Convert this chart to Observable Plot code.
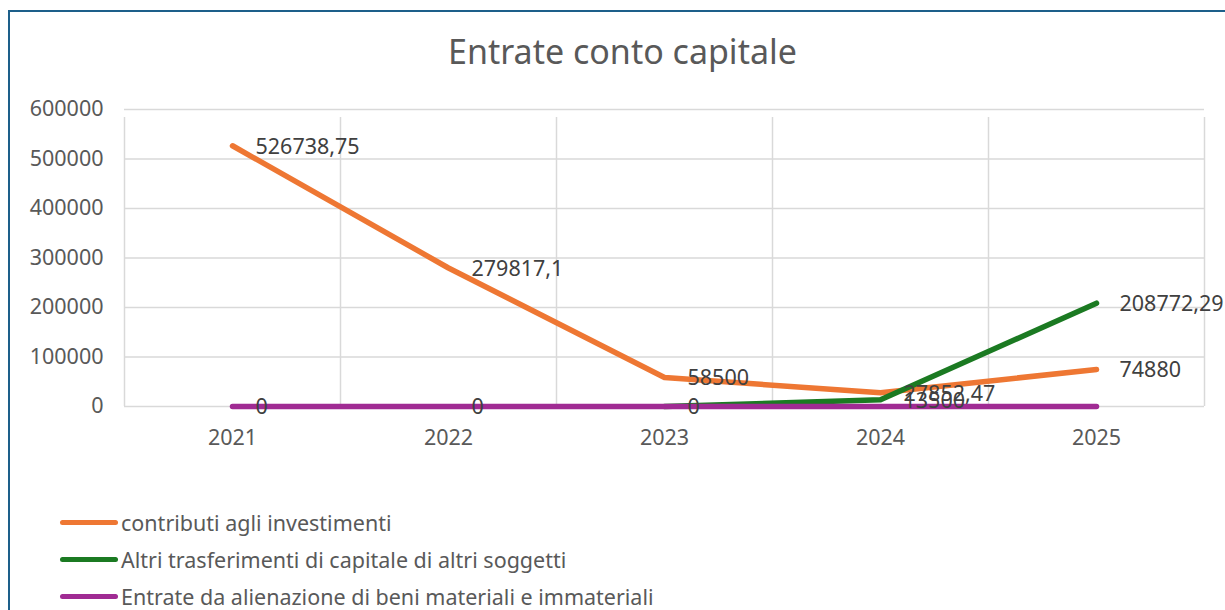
<!DOCTYPE html>
<html>
<head>
<meta charset="utf-8">
<script src="https://cdn.jsdelivr.net/npm/d3@7"></script>
<script src="https://cdn.jsdelivr.net/npm/@observablehq/plot@0.6"></script>
<style>
  html, body { margin: 0; padding: 0; background: #fff; width: 1225px; height: 610px; overflow: hidden; }
  body { font-family: "Noto Sans", sans-serif; color: #595959; position: relative; }
  #frame { position: absolute; left: 8px; top: 10px; width: 1240px; height: 620px; border-left: 2px solid #1d5f8a; border-top: 2px solid #1d5f8a; box-sizing: border-box; }
  #title { position: absolute; left: 0; width: 1245px; top: 28px; text-align: center; font-size: 34px; color: #595959; }
  #chart { position: absolute; left: 0; top: 0; }
  #legend { position: absolute; left: 60px; top: 504px; font-size: 21.5px; color: #595959; }
  .item { display: flex; align-items: center; height: 37px; }
  .sw { width: 58px; height: 5px; border-radius: 3px; margin-right: 3px; }
</style>
</head>
<body>
<div id="frame"></div>
<div id="title">Entrate conto capitale</div>
<div id="chart"></div>
<div id="legend"></div>
<script>
const years = [2021, 2022, 2023, 2024, 2025];
const seriesNames = ["contributi agli investimenti", "Altri trasferimenti di capitale di altri soggetti", "Entrate da alienazione di beni materiali e immateriali"];
const seriesColors = ["#ee7733", "#1b7a22", "#a02b93"];
const contributi = [526738.75, 279817.1, 58500, 27852.47, 74880];
const altriTrasferimenti = [null, null, 0, 13500, 208772.29];
const alienazione = [0, 0, 0, 0, 0];
const alienazioneLabelShown = [true, true, false, false, false];
const yTicks = [0, 100000, 200000, 300000, 400000, 500000, 600000];

const fmt = v => String(v).replace(".", ",");
const allSeries = [contributi, altriTrasferimenti, alienazione];
const rows = [];
allSeries.forEach((vals, si) => {
  vals.forEach((v, i) => {
    rows.push({ series: seriesNames[si], year: years[i], value: v,
      label: v == null ? null : ((si === 2 && !alienazioneLabelShown[i]) ? null : fmt(v)) });
  });
});
const boundaries = [...years.map(y => y - 0.5), years[years.length - 1] + 0.5];

const W = 1225, H = 470;
const FS = 21.5;
const chart = Plot.plot({
  width: W, height: H,
  marginLeft: 124, marginRight: 21, marginTop: 109, marginBottom: 64,
  style: { fontFamily: "Noto Sans, sans-serif", fontSize: FS + "px", color: "#595959", background: "transparent", overflow: "visible" },
  x: { domain: [years[0] - 0.5, years[years.length - 1] + 0.5], axis: null },
  y: { domain: [0, 600000], axis: null },
  color: { domain: seriesNames, range: seriesColors },
  marks: [
    Plot.ruleY(yTicks, { y: d => d, stroke: "#d9d9d9", strokeWidth: 1.5 }),
    Plot.ruleX(boundaries, { x: d => d, y1: 0, y2: 600000, stroke: "#d9d9d9", strokeWidth: 1.5, insetBottom: -8 }),
    Plot.text(yTicks, { x: years[0] - 0.5, y: d => d, text: d => String(d), textAnchor: "end", dx: -21, fill: "#595959", fontSize: FS }),
    Plot.text(years, { x: d => d, y: 0, text: d => String(d), dy: 32, fill: "#595959", fontSize: FS }),
    Plot.line(rows, { x: "year", y: "value", z: "series", stroke: "series", strokeWidth: 5.5, strokeLinecap: "round", strokeLinejoin: "round" }),
    Plot.text(rows.filter(r => r.label != null), { x: "year", y: "value", text: "label", textAnchor: "start", dx: 23, dy: 1, fill: "#404040", fontSize: FS })
  ]
});
document.getElementById("chart").appendChild(chart);

const legend = document.getElementById("legend");
seriesNames.forEach((n, i) => {
  const d = document.createElement("div");
  d.className = "item";
  d.innerHTML = `<span class="sw" style="background:${seriesColors[i]}"></span><span>${n}</span>`;
  legend.appendChild(d);
});
</script>
</body>
</html>
